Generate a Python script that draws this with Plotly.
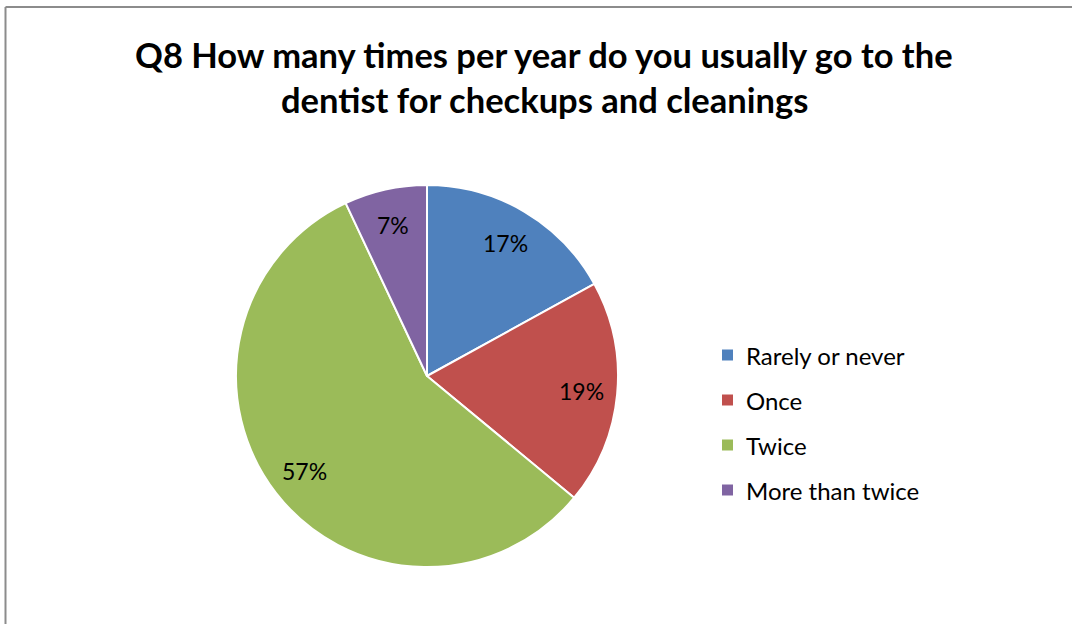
import math
import plotly.graph_objects as go

# Survey answers (percent of respondents)
categories = ["Rarely or never", "Once", "Twice", "More than twice"]
values = [17, 19, 57, 7]
colors = ["#4F81BD", "#C0504D", "#9BBB59", "#8064A2"]
title_lines = [
    "Q8 How many times per year do you usually go to the",
    "dentist for checkups and cleanings",
]

W, H = 1072, 624
FONT = "Lato"

# Pie geometry in pixels
cx, cy, r = 427, 376, 191
label_r = 0.81 * r

fig = go.Figure()
fig.add_trace(go.Pie(
    labels=categories,
    values=values,
    sort=False,
    direction="clockwise",
    rotation=0,
    marker=dict(colors=colors, line=dict(color="white", width=2)),
    textinfo="none",
    hoverinfo="label+percent",
    showlegend=False,
    domain=dict(x=[(cx - r) / W, (cx + r) / W],
                y=[1 - (cy + r) / H, 1 - (cy - r) / H]),
))

annotations = []
shapes = []

# Percentage labels placed at the angular middle of each slice
total = sum(values)
cum = 0
for v in values:
    mid = (cum + v / 2) / total * 2 * math.pi
    cum += v
    lx = cx + label_r * math.sin(mid)
    ly = cy - label_r * math.cos(mid)
    annotations.append(dict(
        x=lx / W, y=1 - ly / H, xref="paper", yref="paper",
        text=f"{round(v / total * 100)}%", showarrow=False,
        font=dict(family=FONT, size=23, color="#000000"),
        xanchor="center", yanchor="middle",
    ))

# Title, two centred lines
for i, line in enumerate(title_lines):
    annotations.append(dict(
        x=544 / W, y=1 - (54 + 46 * i) / H, xref="paper", yref="paper",
        text=f"<b>{line}</b>", showarrow=False,
        font=dict(family=FONT, size=34.5, color="#000000"),
        xanchor="center", yanchor="middle",
    ))

# Legend: coloured squares with labels
for i, (name, col) in enumerate(zip(categories, colors)):
    yc = 355 + 45 * i
    shapes.append(dict(
        type="rect", xref="paper", yref="paper",
        x0=722 / W, x1=733 / W, y0=1 - (yc + 5.5) / H, y1=1 - (yc - 5.5) / H,
        fillcolor=col, line=dict(width=0),
    ))
    annotations.append(dict(
        x=744 / W, y=1 - yc / H, xref="paper", yref="paper",
        text=name, showarrow=False,
        font=dict(family=FONT, size=24, color="#000000"),
        xanchor="left", yanchor="middle",
    ))

# Chart frame (top and left edges visible)
shapes.append(dict(type="line", xref="paper", yref="paper",
                   x0=5.5 / W, x1=1.0, y0=1 - 7 / H, y1=1 - 7 / H,
                   line=dict(color="#8C8C8C", width=2)))
shapes.append(dict(type="line", xref="paper", yref="paper",
                   x0=5.5 / W, x1=5.5 / W, y0=0, y1=1 - 7 / H,
                   line=dict(color="#8C8C8C", width=2)))

fig.update_layout(
    width=W, height=H,
    margin=dict(l=0, r=0, t=0, b=0),
    paper_bgcolor="white",
    plot_bgcolor="white",
    annotations=annotations,
    shapes=shapes,
    showlegend=False,
)

fig.write_html("out.html")
